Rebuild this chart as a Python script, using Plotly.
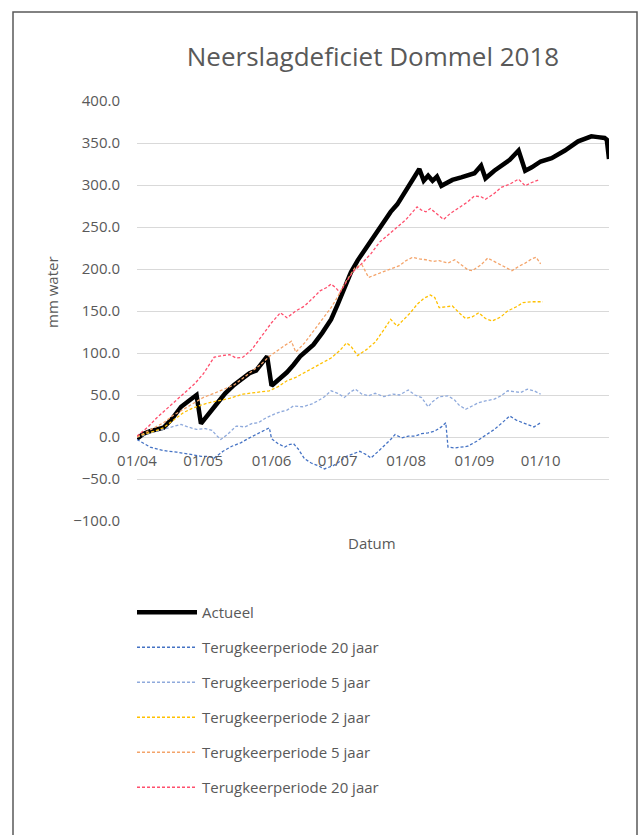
import pandas as pd
import plotly.graph_objects as go

START = pd.Timestamp("2018-04-01")

# Title / labels
title_text = "Neerslagdeficiet Dommel 2018"
y_title = "mm water"
x_title = "Datum"
tick_dates = ["2018-04-01", "2018-05-01", "2018-06-01", "2018-07-01",
              "2018-08-01", "2018-09-01", "2018-10-01"]

# Series: day offset since 1 April 2018 and value (mm)
actueel_dag = [0, 3, 6, 9, 12, 16, 20, 24, 27, 29, 33, 36, 40, 44, 48, 51, 54, 57, 59, 61,
               64, 68, 71, 74, 77, 80, 84, 88, 91, 94, 97, 100, 104, 108, 112, 115, 118, 121,
               124, 126, 128, 130, 132, 134, 136, 138, 140, 143, 147, 150, 153, 156, 158, 162,
               166, 169, 173, 176, 179, 183, 188, 194, 200, 203, 206, 209, 212, 213, 214]
actueel_mm = [-2, 4, 7, 9, 11, 22, 36, 44, 50, 16, 28, 39, 52, 62, 70, 76, 79, 88, 96, 61,
              68, 77, 86, 96, 103, 110, 124, 140, 158, 176, 196, 210, 225, 240, 257, 268, 277, 290,
              303, 311, 319, 305, 311, 305, 310, 299, 302, 306, 309, 311, 314, 323, 308, 317,
              324, 330, 341, 317, 321, 328, 332, 341, 352, 355, 358, 357, 356, 354, 331]

laag20_dag = [0, 3, 6, 10, 14, 18, 21, 25, 29, 32, 35, 37, 39, 43, 47, 51, 54, 58, 60, 61,
              64, 67, 69, 71, 73, 76, 79, 82, 85, 87, 89, 92, 95, 98, 101, 104, 106, 109, 112,
              115, 117, 120, 123, 126, 129, 132, 135, 138, 140, 141, 144, 147, 150, 154, 158,
              162, 166, 169, 172, 175, 178, 180, 183]
laag20_mm = [-3, -8, -12, -15, -17, -18, -19, -21, -23, -23, -25, -21, -17, -11, -7, -1, 3, 8, 11, -2,
             -8, -12, -9, -8, -14, -26, -31, -34, -38, -36, -34, -29, -23, -20, -17, -21, -25, -18, -11,
             -3, 3, -1, 1, 1, 4, 5, 7, 12, 17, -12, -13, -12, -11, -5, 2,
             9, 18, 25, 20, 17, 14, 12, 17]

laag5_dag = [0, 3, 6, 9, 12, 16, 20, 23, 27, 31, 34, 36, 38, 41, 45, 49, 52, 55, 58, 62, 65,
             68, 71, 75, 79, 82, 85, 88, 91, 94, 97, 99, 102, 105, 108, 112, 116, 119, 123, 126,
             129, 132, 134, 137, 141, 144, 146, 149, 152, 155, 158, 162, 165, 168, 171, 174,
             177, 180, 183]
laag5_mm = [0, 2, 5, 7, 9, 12, 15, 12, 9, 10, 8, 2, -3, 3, 13, 12, 16, 17, 22, 27, 30,
            32, 37, 36, 39, 43, 48, 55, 52, 47, 54, 57, 51, 49, 52, 48, 51, 50, 56, 50,
            47, 36, 42, 48, 49, 44, 38, 33, 37, 41, 43, 45, 49, 55, 54, 53,
            57, 55, 51]

hoog2_dag = [0, 4, 8, 12, 16, 21, 25, 29, 33, 37, 42, 48, 54, 60, 64, 68, 72, 76, 80, 84, 88,
             92, 95, 97, 100, 104, 108, 112, 115, 118, 121, 124, 127, 130, 133, 135, 137, 140,
             143, 146, 149, 152, 155, 158, 161, 165, 168, 172, 175, 179, 184]
hoog2_mm = [0, 4, 7, 11, 19, 29, 34, 38, 41, 43, 46, 51, 53, 55, 60, 67, 71, 77, 82, 88, 94,
            103, 112, 108, 97, 104, 113, 128, 140, 132, 140, 148, 158, 165, 169, 166, 154, 155,
            156, 148, 141, 143, 148, 141, 138, 143, 150, 155, 160, 161, 161]

hoog5_dag = [0, 4, 8, 12, 16, 21, 25, 30, 35, 40, 44, 48, 52, 56, 60, 63, 67, 70, 72, 76, 80,
             84, 88, 91, 94, 97, 99, 102, 105, 108, 111, 115, 119, 122, 125, 128, 131, 134, 137,
             141, 144, 147, 150, 152, 156, 159, 162, 165, 168, 170, 173, 176, 179, 181, 183]
hoog5_mm = [0, 6, 12, 17, 25, 33, 40, 47, 52, 58, 62, 70, 78, 86, 96, 102, 109, 114, 101, 112, 126,
            139, 154, 167, 182, 194, 202, 205, 190, 193, 196, 200, 204, 210, 214, 212, 211, 209, 210,
            207, 211, 205, 199, 198, 205, 213, 209, 205, 201, 198, 203, 207, 212, 214, 206]

hoog20_dag = [0, 5, 9, 14, 18, 21, 26, 30, 33, 35, 39, 42, 45, 48, 52, 57, 61, 65, 68, 72, 76,
              80, 83, 86, 88, 90, 92, 95, 98, 101, 106, 110, 114, 118, 122, 125, 127, 129, 131,
              133, 136, 139, 142, 146, 150, 153, 156, 158, 162, 165, 169, 173, 176, 179, 182]
hoog20_mm = [1, 12, 23, 35, 44, 51, 63, 75, 88, 95, 97, 98, 94, 95, 104, 122, 136, 148, 142, 150, 156,
             166, 174, 178, 182, 178, 172, 185, 197, 204, 218, 232, 241, 249, 259, 268, 274, 270, 268,
             272, 265, 259, 266, 273, 280, 287, 286, 283, 290, 297, 301, 307, 299, 303, 306]

series = [
    ("Actueel", actueel_dag, actueel_mm, "#000000", 4.5, "solid"),
    ("Terugkeerperiode 20 jaar", laag20_dag, laag20_mm, "#4472C4", 1.3, "3px,2px"),
    ("Terugkeerperiode 5 jaar", laag5_dag, laag5_mm, "#8FAADC", 1.3, "3px,2px"),
    ("Terugkeerperiode 2 jaar", hoog2_dag, hoog2_mm, "#FFC000", 1.3, "3px,2px"),
    ("Terugkeerperiode 5 jaar", hoog5_dag, hoog5_mm, "#F4A46A", 1.3, "3px,2px"),
    ("Terugkeerperiode 20 jaar", hoog20_dag, hoog20_mm, "#FF4F6D", 1.3, "3px,2px"),
]

FONT = "Open Sans"
GREY = "#595959"

fig = go.Figure()
for i, (name, dag, mm, color, width, dash) in enumerate(series):
    dates = START + pd.to_timedelta(dag, unit="D")
    fig.add_trace(go.Scatter(
        x=dates, y=mm, name=name, mode="lines", legendgroup=f"g{i}",
        line=dict(color=color, width=width, dash=dash),
    ))

W, H = 642, 835
L, R, T, B = 137, 609, 101, 521
pw, ph = R - L, B - T

def px(x):
    return (x - L) / pw

def py(y):
    return (B - y) / ph

fig.update_layout(
    width=W, height=H, autosize=False,
    margin=dict(l=L, r=W - R, t=T, b=H - B),
    paper_bgcolor="white", plot_bgcolor="white",
    font=dict(family=FONT, color=GREY, size=14),
    title=dict(text=title_text, x=373 / W, xanchor="center", y=1 - 57 / H, yanchor="middle",
               font=dict(family=FONT, size=26, color=GREY)),
    xaxis=dict(
        type="date", range=["2018-04-01", "2018-11-01"],
        anchor="free", position=py(436),
        tickvals=tick_dates, tickformat="%d/%m",
        showgrid=False, zeroline=False, showline=False, ticks="",
        ticklabelstandoff=14,
        tickfont=dict(size=15, color=GREY),
    ),
    yaxis=dict(
        range=[-100, 400], dtick=50, tickformat=".1f",
        showgrid=True, gridcolor="#D9D9D9", gridwidth=1,
        zeroline=False, showline=False, ticks="",
        ticklabelstandoff=16,
        tickfont=dict(size=15, color=GREY),
    ),
    legend=dict(
        x=px(132), y=py(596), xanchor="left", yanchor="top",
        orientation="v", traceorder="grouped", tracegroupgap=12.5,
        itemwidth=60,
        font=dict(size=15, color=GREY), bgcolor="rgba(0,0,0,0)",
    ),
    showlegend=True,
    annotations=[
        dict(text=x_title, x=px(372), y=py(543), xref="paper", yref="paper",
             showarrow=False, xanchor="center", yanchor="middle",
             font=dict(size=15, color=GREY)),
        dict(text=y_title, x=px(52), y=py(292), xref="paper", yref="paper",
             showarrow=False, textangle=-90, xanchor="center", yanchor="middle",
             font=dict(size=15, color=GREY)),
    ],
    shapes=[
        dict(type="rect", xref="paper", yref="paper",
             x0=px(13), x1=px(637), y0=py(850), y1=py(12),
             line=dict(color="#595959", width=1.5), fillcolor="rgba(0,0,0,0)", layer="above"),
    ],
)

fig.write_html("out.html")
